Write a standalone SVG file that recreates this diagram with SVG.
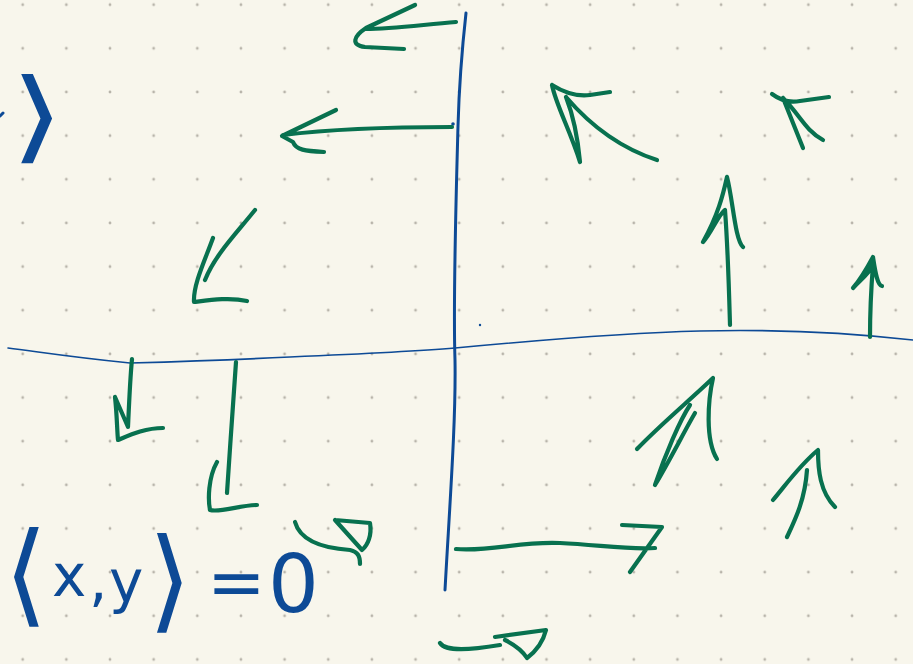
<svg xmlns="http://www.w3.org/2000/svg" width="913" height="664" viewBox="0 0 913 664">
<defs>
<pattern id="dots" x="0" y="0" width="43.65" height="43.65" patternUnits="userSpaceOnUse" patternTransform="translate(22.7,4.7)">
<circle cx="0" cy="0" r="1.4" fill="#b8b4aa"/>
<circle cx="43.65" cy="0" r="1.4" fill="#b8b4aa"/>
<circle cx="0" cy="43.65" r="1.4" fill="#b8b4aa"/>
<circle cx="43.65" cy="43.65" r="1.4" fill="#b8b4aa"/>
</pattern>
<style>
.g{fill:none;stroke:#08714f;stroke-width:4.2;stroke-linecap:round;stroke-linejoin:round}
.b{fill:none;stroke:#0d4a96;stroke-linecap:round;stroke-linejoin:round}
.hw{font-family:"DejaVu Sans",sans-serif;fill:#0d4a96}
</style>
</defs>
<rect width="913" height="664" fill="#f8f6ec"/>
<rect width="913" height="664" fill="url(#dots)"/>
<g id="axes">
<path class="b" stroke-width="3" d="M466,13 C463,40 459,90 458,126 C456,200 453,300 455,360 C456,420 450,500 445,590"/>
<path class="b" stroke-width="1.6" d="M8,348 C40,352 70,357 130,363 C200,361 250,359 290,357 C360,354 420,351 455,348 C540,340 620,333 700,331 C780,329 850,333 913,340"/>
<circle cx="453" cy="124" r="1.8" fill="#0d4a96"/>
<circle cx="480" cy="325" r="1.2" fill="#0d4a96"/>
</g>
<g id="arrows">
<path class="g" d="M456,22 C420,25 390,29 366,29 M415,5 L366,28 C354,36 350,45 365,47 L404,49"/>
<path class="g" d="M452,127 C400,127 340,128 283,135 M336,110 L282,136 L293,142 C296,150 305,151 324,152"/>
<path class="g" d="M255,210 C235,235 215,255 205,280 M213,238 C205,260 193,285 194,302 C210,300 230,297 247,301"/>
<path class="g" d="M132,359 C130,380 129,405 128,427 L115,397 C117,415 117,430 118,440 C130,435 145,428 163,428"/>
<path class="g" d="M236,362 C233,400 230,450 227,493 M217,462 C208,478 208,500 210,510 C220,513 240,505 257,505"/>
<path class="g" d="M295,522 C300,540 320,548 350,550 C358,552 360,556 360,564 M335,520 L370,523 C372,535 368,545 362,550 L335,520"/>
<path class="g" d="M456,549 C490,552 520,541 560,543 C600,545 630,550 655,548 M622,525 L662,527 L630,572"/>
<path class="g" d="M440,643 C446,652 470,650 500,645 M495,637 L546,630 C543,642 535,652 527,658 C522,650 515,645 505,640"/>
<path class="g" d="M552,85 C560,90 575,97 590,95 L610,92 M552,85 C556,105 570,130 580,162 M566,97 C575,120 578,140 580,162 M566,97 C590,125 620,148 657,160"/>
<path class="g" d="M772,94 C780,100 790,103 800,101 L829,97 M783,98 L803,148 M783,98 C800,115 805,130 823,140"/>
<path class="g" d="M727,177 C723,195 718,215 703,242 C712,232 718,215 725,210 C728,250 729,290 730,325 M727,177 C733,200 735,240 743,247"/>
<path class="g" d="M873,257 C866,270 860,280 853,288 C860,280 868,275 873,265 C871,290 870,315 870,337 M873,257 C875,270 877,285 882,286"/>
<path class="g" d="M637,449 C660,425 690,400 713,378 C708,400 705,440 717,459 M655,485 C665,455 680,420 690,405 M655,485 C670,460 685,430 695,413"/>
<path class="g" d="M773,500 C788,482 800,465 818,450 C818,470 820,492 835,507 M807,470 C805,500 795,520 787,537"/>
</g>
<g id="labels">
<text class="hw" font-size="100" transform="translate(10,150) scale(1.4,1)">⟩</text>
<path class="b" stroke-width="3" d="M0,116 L3,113"/>
<text class="hw" font-size="112" x="4" y="612">⟨</text>
<text class="hw" font-size="58" x="52" y="596">x</text>
<text class="hw" font-size="58" x="89" y="600">,</text>
<text class="hw" font-size="58" x="109" y="602">y</text>
<text class="hw" font-size="112" x="148" y="618">⟩</text>
<text class="hw" font-size="70" x="207" y="606">=</text>
<text class="hw" font-size="80" x="268" y="612">0</text>
</g>
</svg>
